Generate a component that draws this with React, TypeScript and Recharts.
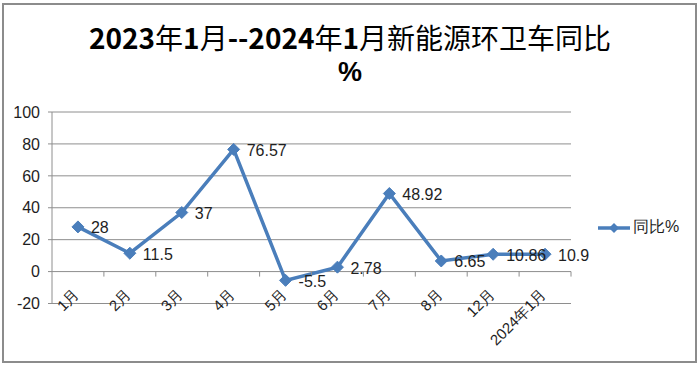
import React from 'react';
import { LineChart, Line, XAxis, YAxis, CartesianGrid, LabelList, Legend } from 'recharts';

const categories = ['1月', '2月', '3月', '4月', '5月', '6月', '7月', '8月', '12月', '2024年1月'];
const yoyValues = [28, 11.5, 37, 76.57, -5.5, 2.78, 48.92, 6.65, 10.86, 10.9];
const yTicks = [-20, 0, 20, 40, 60, 80, 100];
const seriesName = '同比%';

const data = categories.map((month, i) => ({ month, value: yoyValues[i] }));

const W = 700;
const H = 366;
const MARGIN = { top: 112, right: 129, bottom: 2, left: 0 };
const Y_AXIS_W = 52;
const X_AXIS_H = 60.5;
const PLOT_TOP = MARGIN.top;
const PLOT_BOTTOM = H - MARGIN.bottom - X_AXIS_H;
const PLOT_W = W - MARGIN.left - MARGIN.right - Y_AXIS_W;
const BAND = PLOT_W / categories.length;
const Y_MIN = -20;
const Y_MAX = 100;
const ZERO_Y = PLOT_TOP + ((Y_MAX - 0) / (Y_MAX - Y_MIN)) * (PLOT_BOTTOM - PLOT_TOP);

const BLUE = '#4A7EBB';
const GRID = '#8e8e8e';
const TEXT = '#1e1e1e';
const FONT = '"Liberation Sans", Arial, sans-serif';

const Diamond = (props: any) => {
  const { cx, cy, index } = props;
  if (cx == null || cy == null) return <g key={`d-${index}`} />;
  const r = 6;
  return (
    <path
      key={`d-${index}`}
      d={`M${cx},${cy - r} L${cx + r},${cy} L${cx},${cy + r} L${cx - r},${cy} Z`}
      fill={BLUE}
      stroke={BLUE}
      strokeWidth={1}
    />
  );
};

const renderLabel = (props: any) => {
  const vb = props.viewBox || {};
  const px = Number(props.x ?? vb.x);
  const py = Number(props.y ?? vb.y);
  return (
    <text
      x={px + 13}
      y={py + 1}
      dominantBaseline="central"
      fontSize={16}
      fontFamily={FONT}
      fill={TEXT}
    >
      {props.value}
    </text>
  );
};

const XTick = (props: any) => {
  const { x, payload } = props;
  return (
    <g>
      <line x1={x + BAND / 2} y1={ZERO_Y} x2={x + BAND / 2} y2={ZERO_Y + 5} stroke={GRID} strokeWidth={1} />
      <text
        transform={`translate(${x + 2},${ZERO_Y + 24}) rotate(-45)`}
        textAnchor="end"
        fontSize={15}
        fontFamily={FONT}
        fill={TEXT}
      >
        {payload.value}
      </text>
    </g>
  );
};

const LegendContent = () => (
  <div style={{ display: 'flex', alignItems: 'center', fontFamily: FONT, fontSize: 16, color: TEXT }}>
    <svg width={34} height={14} style={{ display: 'block' }}>
      <line x1={1} y1={7} x2={33} y2={7} stroke={BLUE} strokeWidth={3.5} />
      <path d="M17,2 L22,7 L17,12 L12,7 Z" fill={BLUE} />
    </svg>
    <span style={{ marginLeft: 2 }}>{seriesName}</span>
  </div>
);

const digitStyle: React.CSSProperties = { fontWeight: 700 };
const cjkStyle: React.CSSProperties = { fontWeight: 400 };

export default function App() {
  return (
    <div style={{ position: 'absolute', left: 0, top: 0, width: W, height: H, background: '#fff' }}>
      <div
        style={{
          position: 'absolute',
          left: 2,
          top: 3,
          width: 695,
          height: 360,
          boxSizing: 'border-box',
          border: '2px solid #8c8c8c',
        }}
      />
      <div
        style={{
          position: 'absolute',
          left: 0,
          top: 17,
          width: W,
          textAlign: 'center',
          fontFamily: '"Noto Sans CJK SC", sans-serif',
          fontSize: 28,
          lineHeight: '40px',
          color: '#000',
          whiteSpace: 'nowrap',
        }}
      >
        <span style={digitStyle}>2023</span>
        <span style={cjkStyle}>年</span>
        <span style={digitStyle}>1</span>
        <span style={cjkStyle}>月</span>
        <span style={digitStyle}>--2024</span>
        <span style={cjkStyle}>年</span>
        <span style={digitStyle}>1</span>
        <span style={cjkStyle}>月新能源环卫车同比</span>
      </div>
      <div
        style={{
          position: 'absolute',
          left: 0,
          top: 57,
          width: W,
          textAlign: 'center',
          fontFamily: '"Liberation Sans", Arial, sans-serif',
          fontWeight: 700,
          fontSize: 27,
          lineHeight: '30px',
          color: '#000',
        }}
      >
        %
      </div>
      <div style={{ position: 'absolute', left: 0, top: 0 }}>
        <LineChart width={W} height={H} data={data} margin={MARGIN}>
          <CartesianGrid horizontal vertical={false} stroke={GRID} strokeWidth={1} />
          <XAxis
            dataKey="month"
            interval={0}
            height={X_AXIS_H}
            axisLine={false}
            tickLine={false}
            padding={{ left: BAND / 2, right: BAND / 2 }}
            tick={<XTick />}
          />
          <YAxis
            width={Y_AXIS_W}
            domain={[Y_MIN, Y_MAX]}
            ticks={yTicks}
            interval={0}
            allowDataOverflow
            axisLine={{ stroke: GRID }}
            tickLine={{ stroke: GRID }}
            tickSize={4}
            tickMargin={8}
            tick={{ fill: TEXT, fontSize: 16, fontFamily: FONT }}
          />
          <Legend
            layout="horizontal"
            verticalAlign="middle"
            align="center"
            content={<LegendContent />}
            wrapperStyle={{ left: 597, top: 217, width: 100, height: 20 }}
          />
          <Line
            type="linear"
            dataKey="value"
            name={seriesName}
            stroke={BLUE}
            strokeWidth={3.5}
            dot={Diamond}
            activeDot={false}
            isAnimationActive={false}
          >
            <LabelList dataKey="value" content={renderLabel} />
          </Line>
        </LineChart>
      </div>
    </div>
  );
}
